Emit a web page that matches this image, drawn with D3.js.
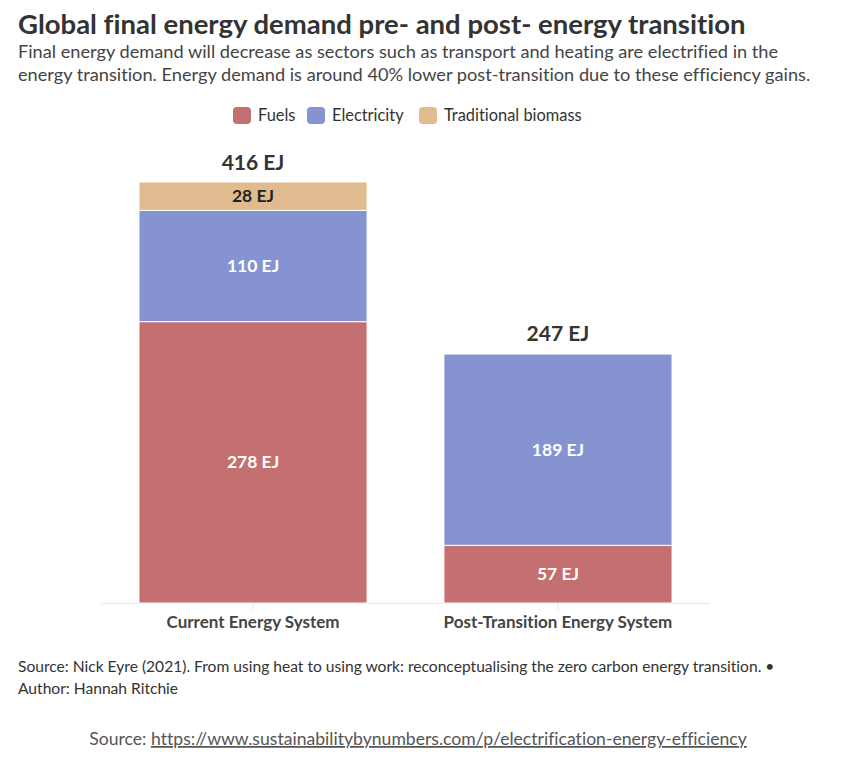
<!DOCTYPE html>
<html>
<head>
<meta charset="utf-8">
<script src="https://cdn.jsdelivr.net/npm/d3@7"></script>
<style>
  body { margin: 0; background: #fff; }
  svg text { font-family: Lato, "Open Sans", sans-serif; font-variant-ligatures: none; }
</style>
</head>
<body>
<svg id="chart" width="845" height="768"></svg>
<script>

var systems = ["Current Energy System", "Post-Transition Energy System"]
var sources = ["Fuels", "Electricity", "Traditional biomass"]
var fuels = [278, 57]
var electricity = [110, 189]
var biomass = [28, 0]
var totals = [416, 247]
var colors = ["#c46f70", "#8594d1", "#dfbb8f"]

var svg = d3.select('#chart')

var rows = systems.map(function(s, i) {
    return { system: s, "Fuels": fuels[i], "Electricity": electricity[i], "Traditional biomass": biomass[i] }
})

var stack = d3.stack().keys(sources)
var series = stack(rows)

var x = d3.scaleBand()
            .domain(systems)
            .range([101, 710])
            .paddingInner(0.252)
            .paddingOuter(0.1245)

var y = d3.scaleLinear()
            .domain([0, 416])
            .range([603, 182])

var color = d3.scaleOrdinal().domain(sources).range(colors)

// title
svg.append("text")
        .attr("x", 18)
        .attr("y", 34)
        .attr("font-size", "27.5px")
        .attr("font-weight", "bold")
        .attr("fill", "#333")
        .text("Global final energy demand pre- and post- energy transition")

svg.append("text")
        .attr("x", 18)
        .attr("y", 58)
        .attr("font-size", "18.2px")
        .attr("fill", "#444")
        .text("Final energy demand will decrease as sectors such as transport and heating are electrified in the")

svg.append("text")
        .attr("x", 18)
        .attr("y", 81)
        .attr("font-size", "18.2px")
        .attr("fill", "#444")
        .text("energy transition. Energy demand is around 40% lower post-transition due to these efficiency gains.")

// legend
var legend = svg.append("g")
var lx = [233, 307, 419]
sources.forEach(function(s, i) {
    legend.append("rect")
            .attr("x", lx[i])
            .attr("y", 107)
            .attr("width", 18)
            .attr("height", 17)
            .attr("rx", 4)
            .attr("fill", color(s))
    legend.append("text")
            .attr("x", lx[i] + 25)
            .attr("y", 121)
            .attr("font-size", "16.4px")
            .attr("fill", "#333")
            .text(s)
})

// axis line + ticks
svg.append("line")
        .attr("x1", 101).attr("x2", 710)
        .attr("y1", 603.5).attr("y2", 603.5)
        .attr("stroke", "#e6e6e6")

svg.selectAll(".tick")
        .data(systems)
        .enter().append("line")
        .attr("x1", function(d) { return x(d) + x.bandwidth() / 2 })
        .attr("x2", function(d) { return x(d) + x.bandwidth() / 2 })
        .attr("y1", 604).attr("y2", 610)
        .attr("stroke", "#e6e6e6")

// bars
var groups = svg.selectAll(".layer")
        .data(series)
        .enter().append("g")
        .attr("fill", function(d) { return color(d.key) })

groups.selectAll("rect")
        .data(function(d) { return d.filter(function(p) { return p[1] - p[0] > 0 }) })
        .enter().append("rect")
        .attr("x", function(d) { return x(d.data.system) })
        .attr("y", function(d) { return y(d[1]) })
        .attr("width", x.bandwidth())
        .attr("height", function(d) { return y(d[0]) - y(d[1]) })
        .attr("stroke", "#fff")
        .attr("stroke-width", 1)

// segment labels
series.forEach(function(layer) {
    layer.forEach(function(p) {
        var v = p[1] - p[0]
        if (v <= 0) return
        svg.append("text")
                .attr("x", x(p.data.system) + x.bandwidth() / 2)
                .attr("y", (y(p[0]) + y(p[1])) / 2 + 6)
                .attr("text-anchor", "middle")
                .attr("font-size", "17.5px")
                .attr("font-weight", "bold")
                .attr("fill", layer.key == "Traditional biomass" ? "#222" : "#fff")
                .text(v + " EJ")
    })
})

// totals
svg.selectAll(".total")
        .data(systems)
        .enter().append("text")
        .attr("x", function(d) { return x(d) + x.bandwidth() / 2 })
        .attr("y", function(d, i) { return y(totals[i]) - 12 })
        .attr("text-anchor", "middle")
        .attr("font-size", "21px")
        .attr("font-weight", "bold")
        .attr("fill", "#333")
        .text(function(d, i) { return totals[i] + " EJ" })

// category labels
svg.selectAll(".cat")
        .data(systems)
        .enter().append("text")
        .attr("x", function(d) { return x(d) + x.bandwidth() / 2 })
        .attr("y", 628)
        .attr("text-anchor", "middle")
        .attr("font-size", "17px")
        .attr("font-weight", "bold")
        .attr("fill", "#444")
        .text(function(d) { return d })

// footer
svg.append("text")
        .attr("x", 18)
        .attr("y", 672)
        .attr("font-size", "15.6px")
        .attr("fill", "#333")
        .text("Source: Nick Eyre (2021). From using heat to using work: reconceptualising the zero carbon energy transition. \u2022")

svg.append("text")
        .attr("x", 18)
        .attr("y", 694)
        .attr("font-size", "15.6px")
        .attr("fill", "#333")
        .text("Author: Hannah Ritchie")

var src = svg.append("text")
        .attr("x", 418)
        .attr("y", 745)
        .attr("text-anchor", "middle")
        .attr("font-size", "17.6px")
        .attr("fill", "#555")
src.append("tspan").text("Source: ")
src.append("tspan")
        .attr("text-decoration", "underline")
        .text("https://www.sustainabilitybynumbers.com/p/electrification-energy-efficiency")

</script>
</body>
</html>
